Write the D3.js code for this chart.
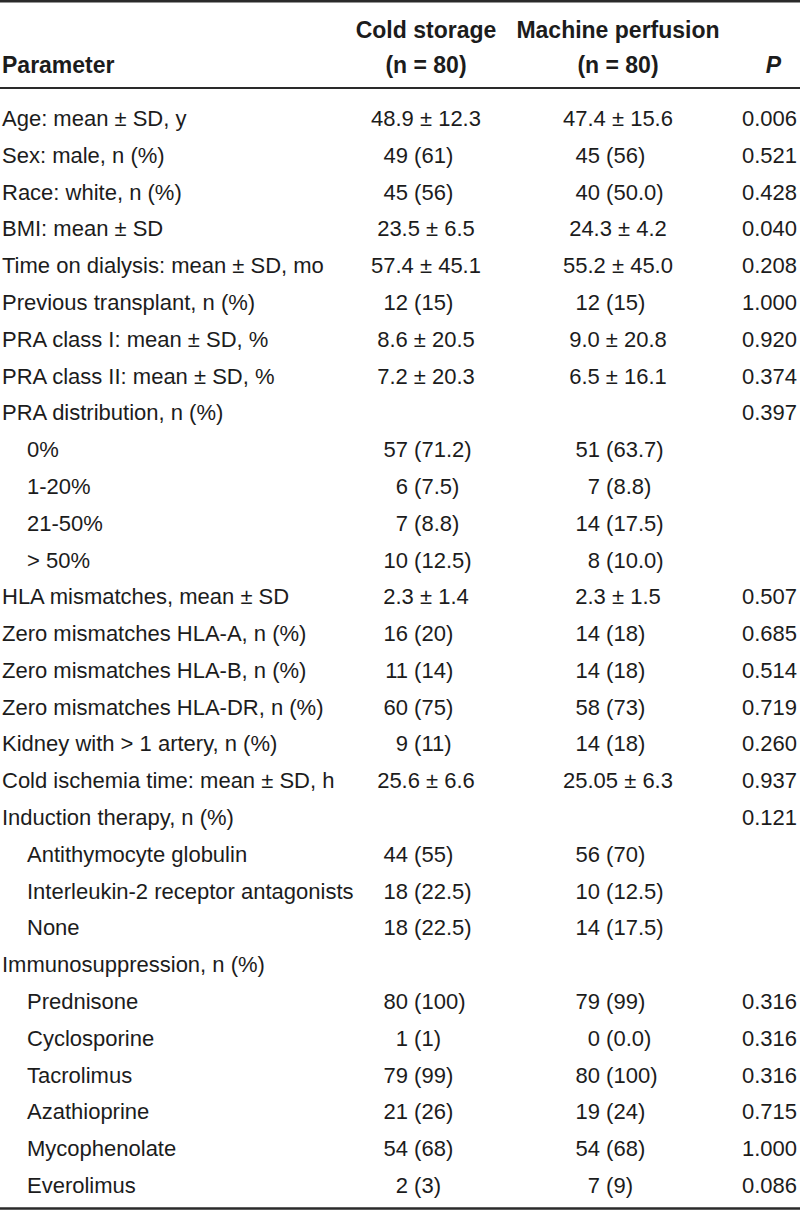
<!DOCTYPE html>
<html>
<head>
<meta charset="utf-8">
<script src="https://cdn.jsdelivr.net/npm/d3@7"></script>
<style>
  html, body { margin: 0; padding: 0; background: #fff; }
  svg { display: block; }
  text { font-family: "Liberation Sans", Arial, sans-serif; fill: #1c1c1c; }
</style>
</head>
<body>
<svg id="chart" width="800" height="1211"></svg>
<script>
const headers = ["Parameter", "Cold storage", "(n = 80)", "Machine perfusion", "(n = 80)", "P"];

const parameters = [
  "Age: mean \u00b1 SD, y", "Sex: male, n (%)", "Race: white, n (%)", "BMI: mean \u00b1 SD",
  "Time on dialysis: mean \u00b1 SD, mo", "Previous transplant, n (%)", "PRA class I: mean \u00b1 SD, %",
  "PRA class II: mean \u00b1 SD, %", "PRA distribution, n (%)", "0%", "1-20%", "21-50%", "> 50%",
  "HLA mismatches, mean \u00b1 SD", "Zero mismatches HLA-A, n (%)", "Zero mismatches HLA-B, n (%)",
  "Zero mismatches HLA-DR, n (%)", "Kidney with > 1 artery, n (%)", "Cold ischemia time: mean \u00b1 SD, h",
  "Induction therapy, n (%)", "Antithymocyte globulin", "Interleukin-2 receptor antagonists", "None",
  "Immunosuppression, n (%)", "Prednisone", "Cyclosporine", "Tacrolimus", "Azathioprine",
  "Mycophenolate", "Everolimus"
];

const indented = [0,0,0,0,0,0,0,0,0,1,1,1,1,0,0,0,0,0,0,0,1,1,1,0,1,1,1,1,1,1];

const coldStorage = [
  "48.9 \u00b1 12.3", "49 (61)", "45 (56)", "23.5 \u00b1 6.5", "57.4 \u00b1 45.1", "12 (15)",
  "8.6 \u00b1 20.5", "7.2 \u00b1 20.3", "", "57 (71.2)", "6 (7.5)", "7 (8.8)", "10 (12.5)",
  "2.3 \u00b1 1.4", "16 (20)", "11 (14)", "60 (75)", "9 (11)", "25.6 \u00b1 6.6", "",
  "44 (55)", "18 (22.5)", "18 (22.5)", "", "80 (100)", "1 (1)", "79 (99)", "21 (26)", "54 (68)", "2 (3)"
];

const machinePerfusion = [
  "47.4 \u00b1 15.6", "45 (56)", "40 (50.0)", "24.3 \u00b1 4.2", "55.2 \u00b1 45.0", "12 (15)",
  "9.0 \u00b1 20.8", "6.5 \u00b1 16.1", "", "51 (63.7)", "7 (8.8)", "14 (17.5)", "8 (10.0)",
  "2.3 \u00b1 1.5", "14 (18)", "14 (18)", "58 (73)", "14 (18)", "25.05 \u00b1 6.3", "",
  "56 (70)", "10 (12.5)", "14 (17.5)", "", "79 (99)", "0 (0.0)", "80 (100)", "19 (24)", "54 (68)", "7 (9)"
];

const pValues = [
  "0.006", "0.521", "0.428", "0.040", "0.208", "1.000", "0.920", "0.374", "0.397", "", "", "", "",
  "0.507", "0.685", "0.514", "0.719", "0.260", "0.937", "0.121", "", "", "", "",
  "0.316", "0.316", "0.316", "0.715", "1.000", "0.086"
];

const W = 800, H = 1211;
const svg = d3.select("#chart");
const fontSize = 22;

const y = d3.scaleLinear().domain([0, parameters.length - 1]).range([126, 1193]);
const colX = d3.scaleOrdinal()
  .domain(["param", "cold", "machine", "p"])
  .range([2, 426, 618, 797]);
const numEdge = { cold: 408, machine: 600 };

// rules
const rules = [{ y: 1.2, w: 2.4 }, { y: 88, w: 2 }, { y: 1208.5, w: 2.6 }];
svg.selectAll("line.rule").data(rules).join("line")
  .attr("class", "rule")
  .attr("x1", 0).attr("x2", W)
  .attr("y1", d => d.y).attr("y2", d => d.y)
  .attr("stroke", "#2a2a2a").attr("stroke-width", d => d.w);

// header
const hdr = svg.append("g").attr("font-weight", "bold").attr("font-size", fontSize + 1);
hdr.append("text").attr("x", colX("param")).attr("y", 73).text(headers[0]);
hdr.append("text").attr("x", colX("cold")).attr("y", 38).attr("text-anchor", "middle").text(headers[1]);
hdr.append("text").attr("x", colX("cold")).attr("y", 73).attr("text-anchor", "middle").text(headers[2]);
hdr.append("text").attr("x", colX("machine")).attr("y", 38).attr("text-anchor", "middle").text(headers[3]);
hdr.append("text").attr("x", colX("machine")).attr("y", 73).attr("text-anchor", "middle").text(headers[4]);
hdr.append("text").attr("x", 781).attr("y", 73).attr("text-anchor", "end").attr("font-style", "italic").text(headers[5]);

// body
const body = svg.append("g").attr("font-size", fontSize);
const measure = body.append("text").attr("visibility", "hidden");
function widthOf(s) { measure.text(s); return measure.node().getComputedTextLength(); }

body.selectAll("text.param").data(parameters).join("text")
  .attr("class", "param")
  .attr("x", (d, i) => colX("param") + (indented[i] ? 25 : 0))
  .attr("y", (d, i) => y(i))
  .text(d => d);

function drawValues(values, key) {
  values.forEach((v, i) => {
    if (!v) return;
    const t = body.append("text").attr("y", y(i)).text(v);
    if (v.includes("\u00b1")) {
      t.attr("x", colX(key)).attr("text-anchor", "middle");
    } else {
      const num = v.split(" ")[0];
      t.attr("x", numEdge[key] - widthOf(num));
    }
  });
}
drawValues(coldStorage, "cold");
drawValues(machinePerfusion, "machine");

body.selectAll("text.pv").data(pValues).join("text")
  .attr("class", "pv")
  .attr("x", colX("p")).attr("text-anchor", "end")
  .attr("y", (d, i) => y(i))
  .text(d => d);
measure.remove();
</script>
</body>
</html>
